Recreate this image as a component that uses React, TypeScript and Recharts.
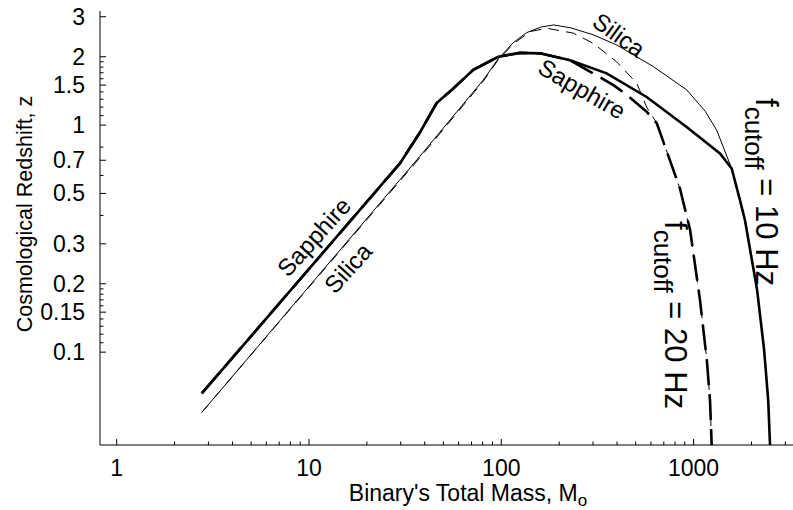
import React from 'react';
import { LineChart, Line, XAxis, YAxis, Customized } from 'recharts';

// ---- axis ticks ----
const xMajorTicks = [1, 10, 100, 1000];
const xMinorTicks = [2, 3, 4, 5, 6, 7, 8, 9, 20, 30, 40, 50, 60, 70, 80, 90, 200, 300, 400, 500, 600, 700, 800, 900, 2000, 3000];
const yMajorTicks = [0.1, 0.15, 0.2, 0.3, 0.5, 0.7, 1, 1.5, 2, 3];
const yMinorTicks = [0.11, 0.12, 0.13, 0.14, 0.16, 0.17, 0.18, 0.19, 0.4, 0.6, 0.8, 1.1, 1.2, 1.3, 1.4, 1.6, 1.7, 1.8, 1.9];
const xDomain = [0.819, 3575];
const yDomain = [0.039, 3.18];

// ---- series: binary total mass (solar masses) and redshift z ----
const sapphire10Mass = [2.77, 29.7, 37.8, 46.1, 56.3, 71.5, 96.5, 125, 159, 228, 353, 570, 920, 1371, 1578, 1742, 1850, 2140, 2327, 2443, 2497];
const sapphire10Z = [0.0658, 0.678, 0.93, 1.25, 1.45, 1.75, 2.0, 2.08, 2.07, 1.93, 1.69, 1.33, 0.98, 0.75, 0.644, 0.467, 0.381, 0.1876, 0.102, 0.0614, 0.039];

const silica10Mass = [2.77, 37.8, 80.6, 96, 115, 135, 160, 187, 230, 300, 400, 617, 920, 1150, 1318, 1578, 1742, 1850, 2140, 2327, 2443, 2497];
const silica10Z = [0.0543, 0.73, 1.58, 1.95, 2.3, 2.55, 2.7, 2.76, 2.68, 2.5, 2.25, 1.81, 1.43, 1.15, 0.95, 0.644, 0.467, 0.381, 0.1876, 0.102, 0.0614, 0.039];

const sapphire20Mass = [2.77, 29.7, 37.8, 46.1, 56.3, 71.5, 96.5, 125, 159, 228, 289, 383, 449, 570, 643, 849, 959, 1079, 1172, 1217, 1242];
const sapphire20Z = [0.0658, 0.678, 0.93, 1.25, 1.45, 1.75, 2.0, 2.08, 2.07, 1.93, 1.72, 1.5, 1.36, 1.145, 1.02, 0.526, 0.345, 0.17, 0.092, 0.0614, 0.039];

const silica20Mass = [2.77, 37.8, 80.6, 96, 115, 141, 172, 237, 301, 398, 506, 570, 643, 849, 959, 1079, 1172, 1217, 1242];
const silica20Z = [0.0543, 0.72, 1.56, 1.93, 2.27, 2.58, 2.67, 2.54, 2.29, 1.9, 1.53, 1.2, 1.02, 0.526, 0.345, 0.17, 0.092, 0.0614, 0.039];

const zip = (m: number[], z: number[]) => m.map((v, i) => ({ m: v, z: z[i] }));

const FONT = 'Liberation Sans, Arial, Helvetica, sans-serif';
const xTicksAll = [...xMajorTicks, ...xMinorTicks].sort((a, b) => a - b);
const yTicksAll = [...yMajorTicks, ...yMinorTicks].sort((a, b) => a - b);

const BottomTick = (props: any) => {
  const { x, y, payload } = props;
  const v = payload.value;
  const major = xMajorTicks.includes(v);
  return (
    <g>
      <line x1={x} x2={x} y1={y} y2={y - (major ? 6 : 3.5)} stroke="#000" strokeWidth={1} />
      {major && (
        <text x={x} y={y + 31} textAnchor="middle" fontSize={23} fontFamily={FONT} fill="#000">
          {String(v)}
        </text>
      )}
    </g>
  );
};

const TopTick = (props: any) => {
  const { x, y, payload } = props;
  const major = xMajorTicks.includes(payload.value);
  return <line x1={x} x2={x} y1={y} y2={y + (major ? 6 : 3.5)} stroke="#000" strokeWidth={1} />;
};

const LeftTick = (props: any) => {
  const { x, y, payload } = props;
  const v = payload.value;
  const major = yMajorTicks.includes(v);
  return (
    <g>
      <line x1={x} x2={x + (major ? 6 : 3.5)} y1={y} y2={y} stroke="#000" strokeWidth={1} />
      {major && (
        <text x={x - 15} y={y + 8} textAnchor="end" fontSize={23} fontFamily={FONT} fill="#000">
          {String(v)}
        </text>
      )}
    </g>
  );
};

const Annotations = () => (
  <g fontFamily={FONT} fill="#000">
    <text x={24} y={214} transform="rotate(-90 24 214)" textAnchor="middle" dy="0.35em" fontSize={21.5}>
      Cosmological Redshift, z
    </text>
    <text x={468} y={501} textAnchor="middle" fontSize={23}>
      Binary's Total Mass, M<tspan fontSize={17} dy={5}>o</tspan>
    </text>
    <text x={314} y={237} transform="rotate(-48 314 237)" textAnchor="middle" dy="0.35em" fontSize={24}>
      Sapphire
    </text>
    <text x={348} y={268} transform="rotate(-48 348 268)" textAnchor="middle" dy="0.35em" fontSize={24}>
      Silica
    </text>
    <text x={619} y={35} transform="rotate(36 619 35)" textAnchor="middle" dy="0.35em" fontSize={24}>
      Silica
    </text>
    <text x={582} y={89} transform="rotate(30 582 89)" textAnchor="middle" dy="0.35em" fontSize={24}>
      Sapphire
    </text>
    <text transform="translate(756 98) rotate(90)" fontSize={31}>
      f<tspan fontSize={26} dy={11}>cutoff</tspan><tspan dy={-11}> = 10 Hz</tspan>
    </text>
    <text transform="translate(665 221) rotate(90)" fontSize={31}>
      f<tspan fontSize={26} dy={11}>cutoff</tspan><tspan dy={-11}> = 20 Hz</tspan>
    </text>
  </g>
);

export default function App() {
  return (
    <div style={{ position: 'absolute', left: 0, top: 0, width: 793, height: 510, overflow: 'hidden', background: '#fff' }}>
      <LineChart width={820} height={510} margin={{ top: 11, right: 20, bottom: 0, left: 0 }}>
        <XAxis
          xAxisId="bottom"
          dataKey="m"
          type="number"
          scale="log"
          domain={xDomain}
          allowDataOverflow
          ticks={xTicksAll}
          interval={0}
          tick={<BottomTick />}
          tickLine={false}
          tickSize={0}
          tickMargin={0}
          height={65}
          axisLine={{ stroke: '#000', strokeWidth: 1 }}
        />
        <XAxis
          xAxisId="top"
          orientation="top"
          dataKey="m"
          type="number"
          scale="log"
          domain={xDomain}
          allowDataOverflow
          ticks={xTicksAll}
          interval={0}
          tick={<TopTick />}
          tickLine={false}
          tickSize={0}
          tickMargin={0}
          height={0}
          axisLine={{ stroke: '#000', strokeWidth: 1 }}
        />
        <YAxis
          yAxisId="left"
          dataKey="z"
          type="number"
          scale="log"
          domain={yDomain}
          allowDataOverflow
          ticks={yTicksAll}
          interval={0}
          tick={<LeftTick />}
          tickLine={false}
          tickSize={0}
          tickMargin={0}
          width={100}
          axisLine={{ stroke: '#000', strokeWidth: 1 }}
        />
        <Line xAxisId="bottom" yAxisId="left" data={zip(silica10Mass, silica10Z)} dataKey="z" type="linear"
          stroke="#000" strokeWidth={1} dot={false} activeDot={false} isAnimationActive={false} />
        <Line xAxisId="bottom" yAxisId="left" data={zip(silica20Mass, silica20Z)} dataKey="z" type="linear"
          stroke="#000" strokeWidth={1} strokeDasharray="11 7" dot={false} activeDot={false} isAnimationActive={false} />
        <Line xAxisId="bottom" yAxisId="left" data={zip(sapphire20Mass, sapphire20Z)} dataKey="z" type="linear"
          stroke="#000" strokeWidth={2.6} strokeDasharray="26 9" dot={false} activeDot={false} isAnimationActive={false} />
        <Line xAxisId="bottom" yAxisId="left" data={zip(sapphire10Mass, sapphire10Z)} dataKey="z" type="linear"
          stroke="#000" strokeWidth={2.6} dot={false} activeDot={false} isAnimationActive={false} />
        <Customized component={<Annotations />} />
      </LineChart>
    </div>
  );
}
